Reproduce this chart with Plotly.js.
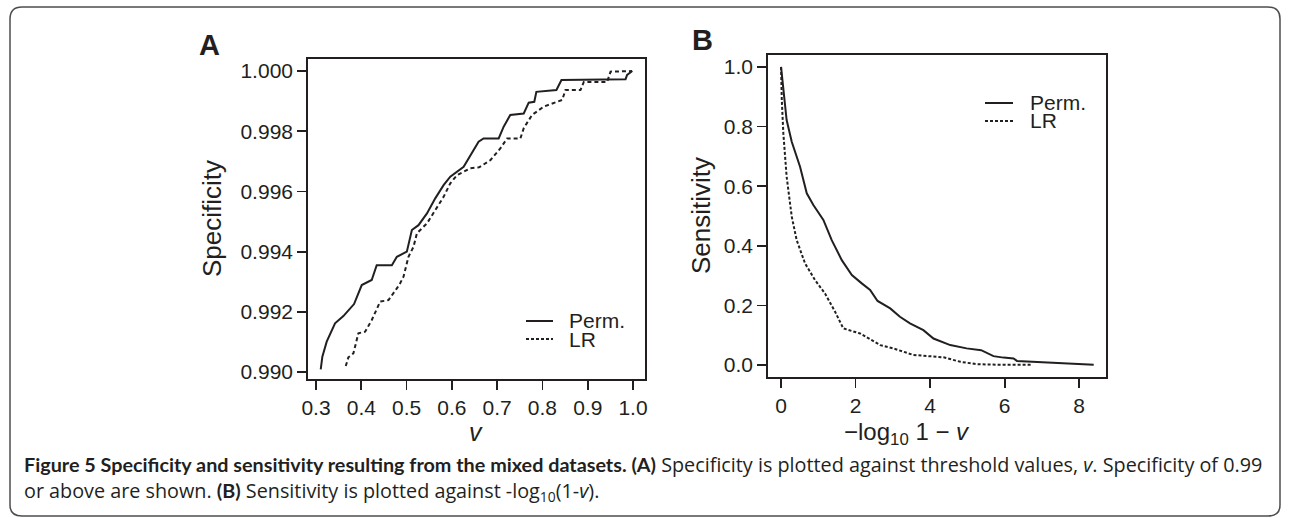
<!DOCTYPE html>
<html>
<head>
<meta charset="utf-8">
<script src="https://cdn.plot.ly/plotly-3.0.1.min.js"></script>
<style>html,body{margin:0;padding:0;background:#fff;}#chart{width:1290px;height:518px;}</style>
</head>
<body>
<div id="chart"></div>
<script>
// Panel A: specificity vs threshold v
const vPerm = [0.3104,0.314,0.3236,0.342,0.3604,0.375,0.384,0.401,0.423,0.434,0.4675,0.4785,0.5006,0.5117,0.5263,0.545,0.5633,0.5817,0.5965,0.626,0.6407,0.659,0.670,0.7034,0.7144,0.729,0.7587,0.7697,0.782,0.7866,0.8309,0.842,0.9836,0.987,0.9985];
const specPerm = [0.99009,0.99051,0.99101,0.99162,0.99186,0.99212,0.99226,0.99289,0.99306,0.99355,0.99355,0.99383,0.99400,0.99472,0.99488,0.99527,0.99577,0.99621,0.99649,0.99682,0.99721,0.99765,0.99776,0.99776,0.99815,0.99854,0.99859,0.99895,0.99898,0.99931,0.99937,0.99970,0.99973,0.99987,1.00000];
const vLR = [0.3657,0.3715,0.3825,0.3936,0.4084,0.4232,0.4416,0.46,0.4785,0.4858,0.4932,0.5042,0.5153,0.5228,0.545,0.5633,0.5817,0.5965,0.6113,0.6407,0.66,0.685,0.707,0.722,0.7513,0.7587,0.777,0.803,0.8436,0.8509,0.884,0.8914,0.943,0.9504,0.998];
const specLR = [0.99020,0.99049,0.99062,0.99129,0.99134,0.99173,0.99234,0.99239,0.99278,0.99295,0.99317,0.99383,0.99416,0.99461,0.99494,0.99538,0.99582,0.99627,0.99654,0.99677,0.99680,0.99704,0.99743,0.99776,0.99776,0.99810,0.99854,0.99882,0.99904,0.99937,0.99937,0.99964,0.99964,0.99998,1.00000];
// Panel B: sensitivity vs -log10(1-v)
const lvPerm = [0,0.062,0.15,0.287,0.51,0.69,0.867,1.136,1.36,1.63,1.90,2.166,2.39,2.59,2.93,3.19,3.46,3.82,4.09,4.54,4.98,5.37,5.70,5.97,6.24,6.33,7.14,7.58,8.39];
const sensPerm = [1.0,0.923,0.822,0.749,0.665,0.576,0.537,0.487,0.419,0.352,0.302,0.274,0.252,0.215,0.190,0.162,0.140,0.117,0.089,0.067,0.056,0.050,0.030,0.025,0.022,0.014,0.009,0.004,0.001];
const lvLR = [0,0.02,0.062,0.15,0.287,0.42,0.644,0.913,1.18,1.45,1.67,2.12,2.66,3.01,3.55,4.36,4.81,5.25,5.88,6.73];
const sensLR = [1.0,0.889,0.777,0.632,0.498,0.419,0.341,0.285,0.240,0.179,0.123,0.106,0.067,0.056,0.034,0.026,0.011,0.003,0.001,0.001];

const xTicksA = [0.3,0.4,0.5,0.6,0.7,0.8,0.9,1.0];
const xTickTextA = ["0.3","0.4","0.5","0.6","0.7","0.8","0.9","1.0"];
const yTicksA = [0.990,0.992,0.994,0.996,0.998,1.000];
const yTickTextA = ["0.990","0.992","0.994","0.996","0.998","1.000"];
const xTicksB = [0,2,4,6,8];
const xTickTextB = ["0","2","4","6","8"];
const yTicksB = [0,0.2,0.4,0.6,0.8,1.0];
const yTickTextB = ["0.0","0.2","0.4","0.6","0.8","1.0"];
const seriesNames = ["Perm.","LR"];

const W = 1290, H = 518;
const X = px => px / W;
const Y = py => 1 - py / H;
const INK = '#231f20';
const FONT = 'Liberation Sans, Arial, Helvetica, sans-serif';
const CAP = 'Open Sans, Noto Sans, sans-serif';

const traces = [
  {x: vPerm, y: specPerm, xaxis:'x', yaxis:'y', mode:'lines', name: seriesNames[0], line:{color:INK, width:2}, showlegend:false},
  {x: vLR, y: specLR, xaxis:'x', yaxis:'y', mode:'lines', name: seriesNames[1], line:{color:INK, width:2, dash:'4px,3px'}, showlegend:false},
  {x: lvPerm, y: sensPerm, xaxis:'x2', yaxis:'y2', mode:'lines', name: seriesNames[0], line:{color:INK, width:2}, showlegend:false},
  {x: lvLR, y: sensLR, xaxis:'x2', yaxis:'y2', mode:'lines', name: seriesNames[1], line:{color:INK, width:2, dash:'3px,2px'}, showlegend:false}
];

function axis(extra) {
  return Object.assign({
    showline:true, mirror:true, linecolor:INK, linewidth:1.8,
    ticks:'outside', ticklen:9, tickwidth:1.8, tickcolor:INK,
    showgrid:false, zeroline:false, fixedrange:true,
    tickfont:{family:FONT, size:21, color:INK}
  }, extra);
}

function note(px, py, text, size, extra) {
  return Object.assign({xref:'paper', yref:'paper', x:X(px), y:Y(py), xanchor:'center', yanchor:'middle',
    text:text, showarrow:false, font:{family:FONT, size:size, color:INK}}, extra || {});
}

const BOLD = s => `<b><span style="font-family:Lato">${s}</span></b>`;

const layout = {
  width:W, height:H,
  margin:{l:0,r:0,t:0,b:0},
  paper_bgcolor:'#fff', plot_bgcolor:'#fff',
  showlegend:false,
  xaxis: axis({domain:[X(308),X(645)], range:[0.2823,1.0265], tickvals:xTicksA, ticktext:xTickTextA, anchor:'y'}),
  yaxis: axis({domain:[Y(379),Y(59)], range:[0.98977,1.0004], tickvals:yTicksA, ticktext:yTickTextA, anchor:'x'}),
  xaxis2: axis({domain:[X(768),X(1106)], range:[-0.35,8.72], tickvals:xTicksB, ticktext:xTickTextB, anchor:'y2'}),
  yaxis2: axis({domain:[Y(377),Y(55)], range:[-0.04,1.04], tickvals:yTicksB, ticktext:yTickTextB, anchor:'x2'}),
  shapes: [
    {type:'path', xref:'paper', yref:'paper',
     path:`M ${X(10)} ${Y(19)} Q ${X(10)} ${Y(7)} ${X(22)} ${Y(7)} L ${X(1268)} ${Y(7)} Q ${X(1280)} ${Y(7)} ${X(1280)} ${Y(19)} L ${X(1280)} ${Y(505)} Q ${X(1280)} ${Y(516)} ${X(1268)} ${Y(516)} L ${X(22)} ${Y(516)} Q ${X(10)} ${Y(516)} ${X(10)} ${Y(505)} Z`,
     line:{color:'#4d4d4f', width:1.5}},
    // legend samples
    {type:'line', xref:'paper', yref:'paper', x0:X(526), x1:X(553), y0:Y(321), y1:Y(321), line:{color:INK, width:2}},
    {type:'line', xref:'paper', yref:'paper', x0:X(526), x1:X(553), y0:Y(339), y1:Y(339), line:{color:INK, width:2, dash:'3px,2px'}},
    {type:'line', xref:'paper', yref:'paper', x0:X(985), x1:X(1013), y0:Y(103), y1:Y(103), line:{color:INK, width:2}},
    {type:'line', xref:'paper', yref:'paper', x0:X(985), x1:X(1013), y0:Y(121), y1:Y(121), line:{color:INK, width:2, dash:'3px,2px'}}
  ],
  annotations: [
    note(209, 45, '<b>A</b>', 29),
    note(702, 40, '<b>B</b>', 29),
    note(212, 219, 'Specificity', 26, {textangle:-90}),
    note(701, 216, 'Sensitivity', 26, {textangle:-90}),
    note(476, 432, '<i>v</i>', 25),
    note(907, 433, '\u2212log<sub>10</sub> 1 \u2212 <i>v</i>', 24),
    note(567, 320, seriesNames[0], 21, {xanchor:'left'}),
    note(567, 339, seriesNames[1], 21, {xanchor:'left'}),
    note(1028, 102, seriesNames[0], 21, {xanchor:'left'}),
    note(1028, 121, seriesNames[1], 21, {xanchor:'left'}),
    note(22, 464, BOLD('Figure 5 Specificity and sensitivity resulting from the mixed datasets. (A)') + ' Specificity is plotted against threshold values, <i>v</i>. Specificity of 0.99', 19.8, {xanchor:'left', font:{family:CAP, size:19.8, color:INK}}),
    note(22, 491, 'or above are shown. ' + BOLD('(B)') + ' Sensitivity is plotted against -log<sub>10</sub>(1-<i>v</i>).', 19.8, {xanchor:'left', font:{family:CAP, size:19.8, color:INK}})
  ]
};

Plotly.newPlot('chart', traces, layout, {staticPlot:true, displayModeBar:false});
</script>
</body>
</html>
